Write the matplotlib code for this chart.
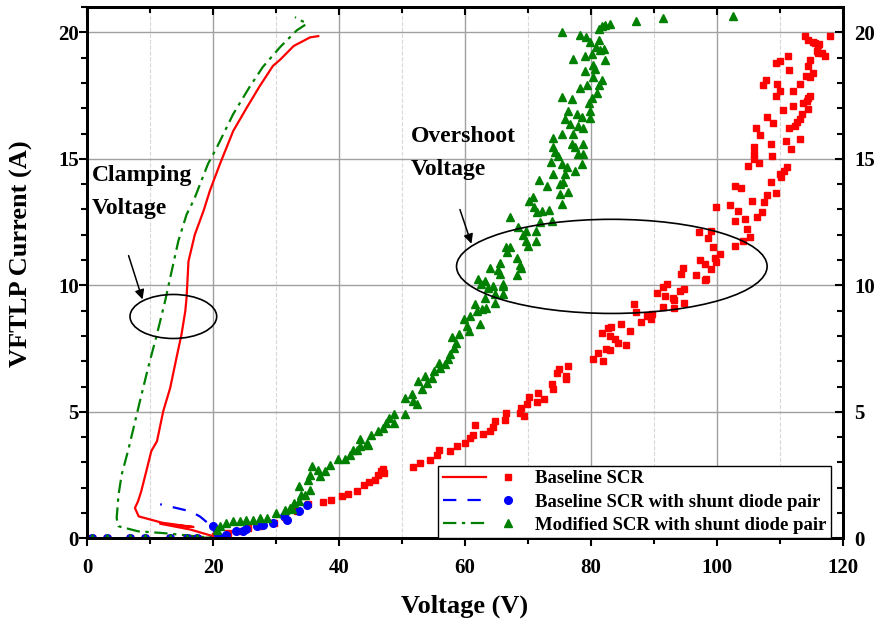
import matplotlib
matplotlib.use('Agg')
import matplotlib.pyplot as plt
from matplotlib.patches import Ellipse
from matplotlib.lines import Line2D
from matplotlib.legend_handler import HandlerTuple
from matplotlib.ticker import MultipleLocator

plt.rcParams['font.family'] = ['Liberation Serif', 'DejaVu Serif']
plt.rcParams['font.weight'] = 'bold'

# VFTLP I-V traces (lines)
red_line_v = [0, 5, 10, 15, 19.5, 20.1, 16.4, 11.6, 16.9, 11.9, 8.2, 7.6, 8.1, 8.6, 9.4,
              10.2, 11.1, 12.1, 13.2, 14.2, 15.0, 15.6, 15.8, 16.1, 17.1, 18.5, 19.5,
              21.1, 23.2, 25.3, 27.4, 29.5, 30.7, 32.8, 35.4, 36.7]
red_line_i = [0, 0, 0, 0, 0.02, 0.08, 0.35, 0.58, 0.45, 0.62, 0.87, 1.2, 1.47, 1.86, 2.65,
              3.45, 3.84, 5.03, 5.95, 7.14, 8.07, 8.99, 9.52, 10.95, 12.0, 12.95, 13.74,
              14.8, 16.1, 17.0, 17.87, 18.67, 18.93, 19.46, 19.8, 19.85]

blue_line_v = [0, 5, 10, 15, 19.6, 20.5, 19.8, 17.9, 16.4, 14.2, 11.6]
blue_line_i = [0, 0, 0, 0, 0.02, 0.1, 0.48, 0.87, 1.07, 1.2, 1.35]

green_line_v = [0, 5, 10, 15, 19.6, 17.4, 12.1, 8.1, 5.0, 4.7, 5.0, 5.5, 6.6, 8.4, 9.7,
                11.1, 12.4, 13.2, 14.5, 15.8, 17.0, 19.2, 20.6, 23.2, 25.8, 27.9, 30.7,
                33.3, 34.9, 33.0]
green_line_i = [0, 0, 0, 0, 0.03, 0.08, 0.21, 0.28, 0.48, 0.8, 1.73, 2.52, 3.55, 5.43, 6.75,
                8.07, 9.39, 10.3, 11.76, 12.8, 13.4, 14.8, 15.45, 16.77, 17.84, 18.63, 19.43,
                20.08, 20.34, 20.6]

# VFTLP overshoot points (markers)
red_pts = [(0.8, 0), (3.2, 0), (6.8, 0), (9.2, 0), (13.2, 0), (15.9, 0), (17.5, 0),
           (20.3, 0.1), (22.3, 0.2), (24.0, 0.3), (25.6, 0.4), (27.5, 0.5), (29.6, 0.62),
           (31.4, 0.85), (33.3, 1.1), (35.0, 1.35), (37.5, 1.44), (38.8, 1.53), (40.4, 1.69),
           (41.5, 1.76), (42.8, 1.89), (43.9, 2.1), (44.7, 2.23), (45.7, 2.32), (46.2, 2.52),
           (46.7, 2.65), (47.1, 2.59), (47.0, 2.74), (51.8, 2.84), (52.9, 2.98), (54.5, 3.09),
           (55.5, 3.31), (55.8, 3.51), (57.6, 3.45), (58.7, 3.64), (60.0, 3.77), (60.8, 3.97),
           (61.3, 4.08), (61.6, 4.5), (62.9, 4.13), (63.9, 4.24), (64.5, 4.4), (64.7, 4.63),
           (66.3, 4.66), (66.5, 4.97), (68.7, 4.97), (68.9, 5.16), (69.4, 4.83), (69.8, 5.3),
           (70.2, 5.58), (71.6, 5.75), (71.4, 5.4), (72.6, 5.5), (73.8, 6.09), (74.0, 5.89),
           (74.6, 6.55), (74.9, 6.68), (76.0, 6.28), (76.1, 6.42), (76.4, 6.81),
           (80.3, 7.08), (81.1, 7.34), (81.9, 7.0), (82.4, 7.5), (83.0, 7.43), (81.8, 8.13),
           (82.7, 8.33), (83.2, 8.37), (83.0, 8.0), (83.8, 7.87), (84.3, 7.74), (85.6, 7.64),
           (84.8, 8.46), (86.2, 8.2), (86.8, 9.25), (87.2, 8.94), (87.9, 8.56), (88.9, 8.79),
           (89.6, 8.85), (89.5, 8.69), (90.4, 9.69), (91.4, 9.94), (92.0, 10.04), (91.8, 9.58),
           (91.4, 9.16), (93.0, 9.52), (93.1, 9.42), (93.1, 9.1), (94.1, 9.76), (94.3, 10.44),
           (94.6, 10.7), (94.8, 9.84), (94.8, 9.32), (96.6, 10.4), (98.1, 10.86), (98.1, 10.2),
           (98.3, 10.26), (99.1, 10.66), (99.9, 10.92), (97.3, 11.0), (97.2, 12.1), (98.6, 11.87),
           (99.1, 12.16), (99.4, 11.5), (99.6, 11.1), (100.5, 11.23), (99.9, 13.1), (102.0, 13.16),
           (102.9, 11.56), (102.8, 12.53), (103.4, 12.92), (102.8, 13.94), (103.8, 13.85),
           (104.1, 11.74), (104.4, 12.62), (104.7, 12.22), (104.9, 14.7), (105.3, 11.92),
           (105.6, 13.35), (105.9, 15.45), (105.9, 15.2), (105.9, 15.0), (106.2, 16.23),
           (106.7, 14.83), (106.4, 12.71), (106.8, 15.95), (107.1, 12.9), (107.4, 13.28),
           (107.9, 13.59), (107.9, 16.65), (107.3, 17.9), (107.7, 18.1), (108.5, 15.6),
           (108.5, 14.1), (108.9, 16.4), (108.8, 15.1), (109.3, 13.66), (109.3, 18.8),
           (110.0, 18.87), (109.4, 17.5), (109.5, 17.95), (110.0, 17.7), (110.0, 14.4),
           (110.2, 14.27), (110.4, 16.94), (110.7, 14.53), (111.1, 14.67), (111.0, 15.72),
           (111.2, 19.05), (111.4, 18.5), (111.4, 16.2), (111.7, 15.4), (112.0, 17.7),
           (112.1, 17.1), (112.4, 16.3), (112.7, 16.45), (113.1, 17.95), (113.2, 15.8),
           (113.2, 16.58), (113.5, 16.78), (113.6, 17.2), (114.0, 19.84), (114.2, 18.26),
           (114.3, 17.3), (114.4, 16.98), (114.5, 19.7), (114.5, 17.4), (114.7, 17.5),
           (114.5, 18.65), (114.7, 18.92), (114.8, 18.23), (115.2, 19.6), (115.2, 18.4),
           (115.6, 19.58), (116.0, 19.5), (115.9, 19.27), (116.2, 19.55), (116.1, 19.2),
           (116.7, 19.2), (117.2, 19.08), (118.0, 19.85)]

blue_pts = [(0.8, 0), (3.2, 0), (6.8, 0), (9.2, 0), (13.2, 0), (15.9, 0), (17.5, 0),
            (20.0, 0.48), (20.8, 0.08), (22.1, 0.15), (23.7, 0.28), (24.8, 0.28), (25.3, 0.38),
            (26.9, 0.48), (27.9, 0.51), (29.5, 0.6), (31.2, 0.87), (31.7, 0.74), (33.6, 1.07),
            (34.9, 1.31)]

green_pts = [(0.8, 0), (3.2, 0), (6.8, 0), (9.2, 0), (13.2, 0), (15.9, 0), (17.5, 0),
             (20.6, 0.34), (21.1, 0.48), (22.1, 0.61), (23.2, 0.67), (24.3, 0.67), (25.3, 0.74),
             (26.4, 0.74), (27.4, 0.8), (28.5, 0.8), (30.0, 1.0), (31.5, 1.14), (32.2, 1.2),
             (32.5, 1.16), (32.8, 1.4), (33.6, 2.06), (33.6, 1.47), (33.9, 1.73), (34.6, 1.73),
             (35.1, 2.32), (35.4, 1.93), (35.4, 2.52), (35.7, 2.85), (36.7, 2.72), (37.0, 2.46),
             (37.8, 2.65), (38.6, 2.92), (39.9, 3.12), (40.9, 3.12), (41.7, 3.31), (42.2, 3.51),
             (42.8, 3.51), (43.3, 3.91), (43.3, 3.64), (44.4, 3.77), (44.6, 3.71), (45.1, 4.1),
             (46.2, 4.24), (47.0, 4.37), (47.5, 4.57), (48.0, 4.77), (48.8, 4.9), (48.8, 4.57),
             (50.5, 4.9), (50.5, 5.56), (51.6, 5.69), (51.8, 5.43), (52.4, 5.3), (52.6, 6.22),
             (53.1, 5.89), (53.7, 6.42), (54.7, 6.35), (53.9, 6.15), (55.0, 6.61), (55.8, 6.95),
             (56.0, 6.75), (56.8, 6.88), (57.3, 7.08), (57.6, 7.27), (58.2, 7.54), (57.9, 7.94),
             (58.5, 7.74), (59.0, 8.07), (59.8, 8.66), (60.3, 8.4), (60.6, 8.2), (60.8, 8.79),
             (61.6, 9.25), (61.9, 8.99), (62.4, 8.46), (62.7, 9.05), (63.1, 9.52), (63.4, 9.12),
             (63.7, 9.9), (64.7, 9.32), (64.7, 9.65), (66.0, 9.65), (66.0, 9.98),
             (62.1, 10.24), (62.6, 10.04), (63.1, 10.18), (63.9, 10.7), (64.5, 9.98), (65.2, 10.6),
             (65.6, 10.9), (65.6, 10.44), (66.1, 10.04), (66.5, 11.5), (67.1, 11.5), (66.6, 11.3),
             (67.2, 12.7), (68.2, 11.1), (68.3, 10.4), (68.4, 12.3), (68.7, 10.8), (68.9, 10.7),
             (69.2, 12.0), (69.7, 12.16), (69.7, 11.76), (70.0, 11.56), (70.2, 13.35), (70.8, 13.48),
             (70.9, 13.08), (71.2, 11.76), (71.3, 12.16), (71.4, 12.9), (71.7, 14.15), (71.9, 12.49),
             (72.2, 12.95), (73.0, 13.94), (73.3, 12.98), (73.6, 14.86), (73.8, 12.55), (74.0, 15.45),
             (74.0, 15.84), (74.0, 14.4), (74.3, 15.26), (74.8, 15.1), (75.1, 13.6), (75.1, 14.0),
             (75.4, 14.8), (75.4, 13.2), (75.4, 20.0), (75.4, 17.43), (75.4, 15.98), (75.6, 14.07),
             (75.9, 16.58), (75.9, 14.4), (76.2, 14.67), (76.3, 16.9), (76.4, 13.68), (76.7, 16.36),
             (77.0, 17.37), (77.0, 15.6), (77.2, 18.93), (77.2, 16.0), (77.5, 15.45), (77.5, 14.53),
             (77.8, 16.77), (78.0, 16.3), (78.0, 15.2), (78.3, 19.9), (78.3, 17.8), (78.5, 16.67),
             (78.6, 14.8), (78.7, 15.6), (78.8, 16.2), (78.8, 15.2), (79.0, 19.07), (79.0, 18.47),
             (79.2, 19.8), (79.3, 17.9), (79.6, 17.2), (79.8, 16.9), (79.9, 19.6), (79.9, 16.6),
             (80.1, 17.4), (80.2, 19.15), (80.3, 18.23), (80.3, 18.7), (80.6, 18.56), (80.8, 19.43),
             (80.9, 17.6), (81.2, 17.93), (81.2, 20.15), (81.3, 19.7), (81.4, 19.3), (81.7, 20.23),
             (81.7, 18.1), (82.0, 19.35), (82.2, 18.9), (82.2, 20.28), (83.0, 20.34), (87.2, 20.45),
             (91.5, 20.58), (102.5, 20.64)]

labels = ['Baseline SCR', 'Baseline SCR with shunt diode pair', 'Modified SCR with shunt diode pair']

fig = plt.figure(figsize=(8.81, 6.32), dpi=100)
ax = fig.add_axes([0.0988, 0.1481, 0.8581, 0.8408])

ax.plot(red_line_v, red_line_i, color='red', lw=1.6, zorder=3)
ax.plot(blue_line_v, blue_line_i, color='blue', lw=1.6, dashes=(6, 5), zorder=3)
ax.plot(green_line_v, green_line_i, color='green', lw=1.6, dashes=(6, 2.5, 1.5, 2.5), zorder=3)

ax.plot([p[0] for p in red_pts], [p[1] for p in red_pts], 's', color='red', ms=5, zorder=4)
ax.plot([p[0] for p in blue_pts], [p[1] for p in blue_pts], 'o', color='blue', ms=5.5, zorder=5)
ax.plot([p[0] for p in green_pts], [p[1] for p in green_pts], '^', color='green', ms=6, zorder=6)

# annotations
ax.add_patch(Ellipse((13.7, 8.77), 13.76, 1.74, fill=False, ec='black', lw=1.2, zorder=7))
ax.add_patch(Ellipse((83.3, 10.75), 49.3, 3.72, fill=False, ec='black', lw=1.2, zorder=7))
ax.annotate('', xy=(8.94, 9.34), xytext=(6.46, 11.28),
            arrowprops=dict(arrowstyle='-|>', color='black', lw=1.1, mutation_scale=14))
ax.annotate('', xy=(61.16, 11.54), xytext=(59.05, 13.1),
            arrowprops=dict(arrowstyle='-|>', color='black', lw=1.1, mutation_scale=14))
ax.text(0.8, 14.75, 'Clamping\nVoltage', fontsize=17, fontweight='bold', va='top', ha='left',
        linespacing=1.75)
ax.text(51.4, 16.3, 'Overshoot\nVoltage', fontsize=17, fontweight='bold', va='top', ha='left',
        linespacing=1.75)

ax.set_xlim(0, 120)
ax.set_ylim(0, 21)
ax.xaxis.set_major_locator(MultipleLocator(20))
ax.xaxis.set_minor_locator(MultipleLocator(10))
ax.yaxis.set_major_locator(MultipleLocator(5))
ax.yaxis.set_minor_locator(MultipleLocator(1))

ax.grid(which='major', color='#a0a0a0', lw=1.0)
ax.xaxis.grid(which='minor', color='#d8d8d8', lw=0.8, ls='--')
ax.set_axisbelow(True)

for s in ax.spines.values():
    s.set_linewidth(2)
ax.tick_params(which='both', direction='out', width=1.5, labelsize=15)
ax.tick_params(which='major', length=6)
ax.tick_params(which='minor', length=4)
ax.tick_params(axis='x', pad=8)
ax.tick_params(axis='y', pad=0)

# mirrored axes: ticks pointing inward on top and right
top = ax.twiny()
top.set_xlim(ax.get_xlim())
top.xaxis.set_major_locator(MultipleLocator(20))
top.xaxis.set_minor_locator(MultipleLocator(10))
top.tick_params(which='both', direction='in', width=1.5, labeltop=False)
top.tick_params(which='major', length=6)
top.tick_params(which='minor', length=4)

right = ax.twinx()
right.set_ylim(ax.get_ylim())
right.yaxis.set_major_locator(MultipleLocator(5))
right.yaxis.set_minor_locator(MultipleLocator(1))
right.tick_params(which='both', direction='in', width=1.5, labelsize=15, pad=8)
right.tick_params(which='major', length=6)
right.tick_params(which='minor', length=4)
for a in (top, right):
    for s in a.spines.values():
        s.set_linewidth(2)

ax.set_xlabel('Voltage (V)', fontsize=19, fontweight='bold', labelpad=12)
ax.set_ylabel('VFTLP Current (A)', fontsize=19, fontweight='bold')
ax.yaxis.set_label_coords(-0.071, 0.535)

handles = [
    (Line2D([], [], color='red', lw=1.6), Line2D([], [], color='red', marker='s', ls='none', ms=5)),
    (Line2D([], [], color='blue', lw=1.6, dashes=(6, 5)),
     Line2D([], [], color='blue', marker='o', ls='none', ms=5.5)),
    (Line2D([], [], color='green', lw=1.6, dashes=(6, 2.5, 1.5, 2.5)),
     Line2D([], [], color='green', marker='^', ls='none', ms=6)),
]
leg = right.legend(handles, labels, handler_map={tuple: HandlerTuple(ndivide=None, pad=0)},
                   loc='lower right', bbox_to_anchor=(0.984, 0.0), borderaxespad=0,
                   handlelength=4.6, handletextpad=0.3, labelspacing=0.32,
                   borderpad=0.25, numpoints=1, fancybox=False, framealpha=1,
                   edgecolor='black', prop={'weight': 'bold', 'size': 13.5})
leg.get_frame().set_linewidth(1.0)

fig.savefig('out.png', dpi=100)
